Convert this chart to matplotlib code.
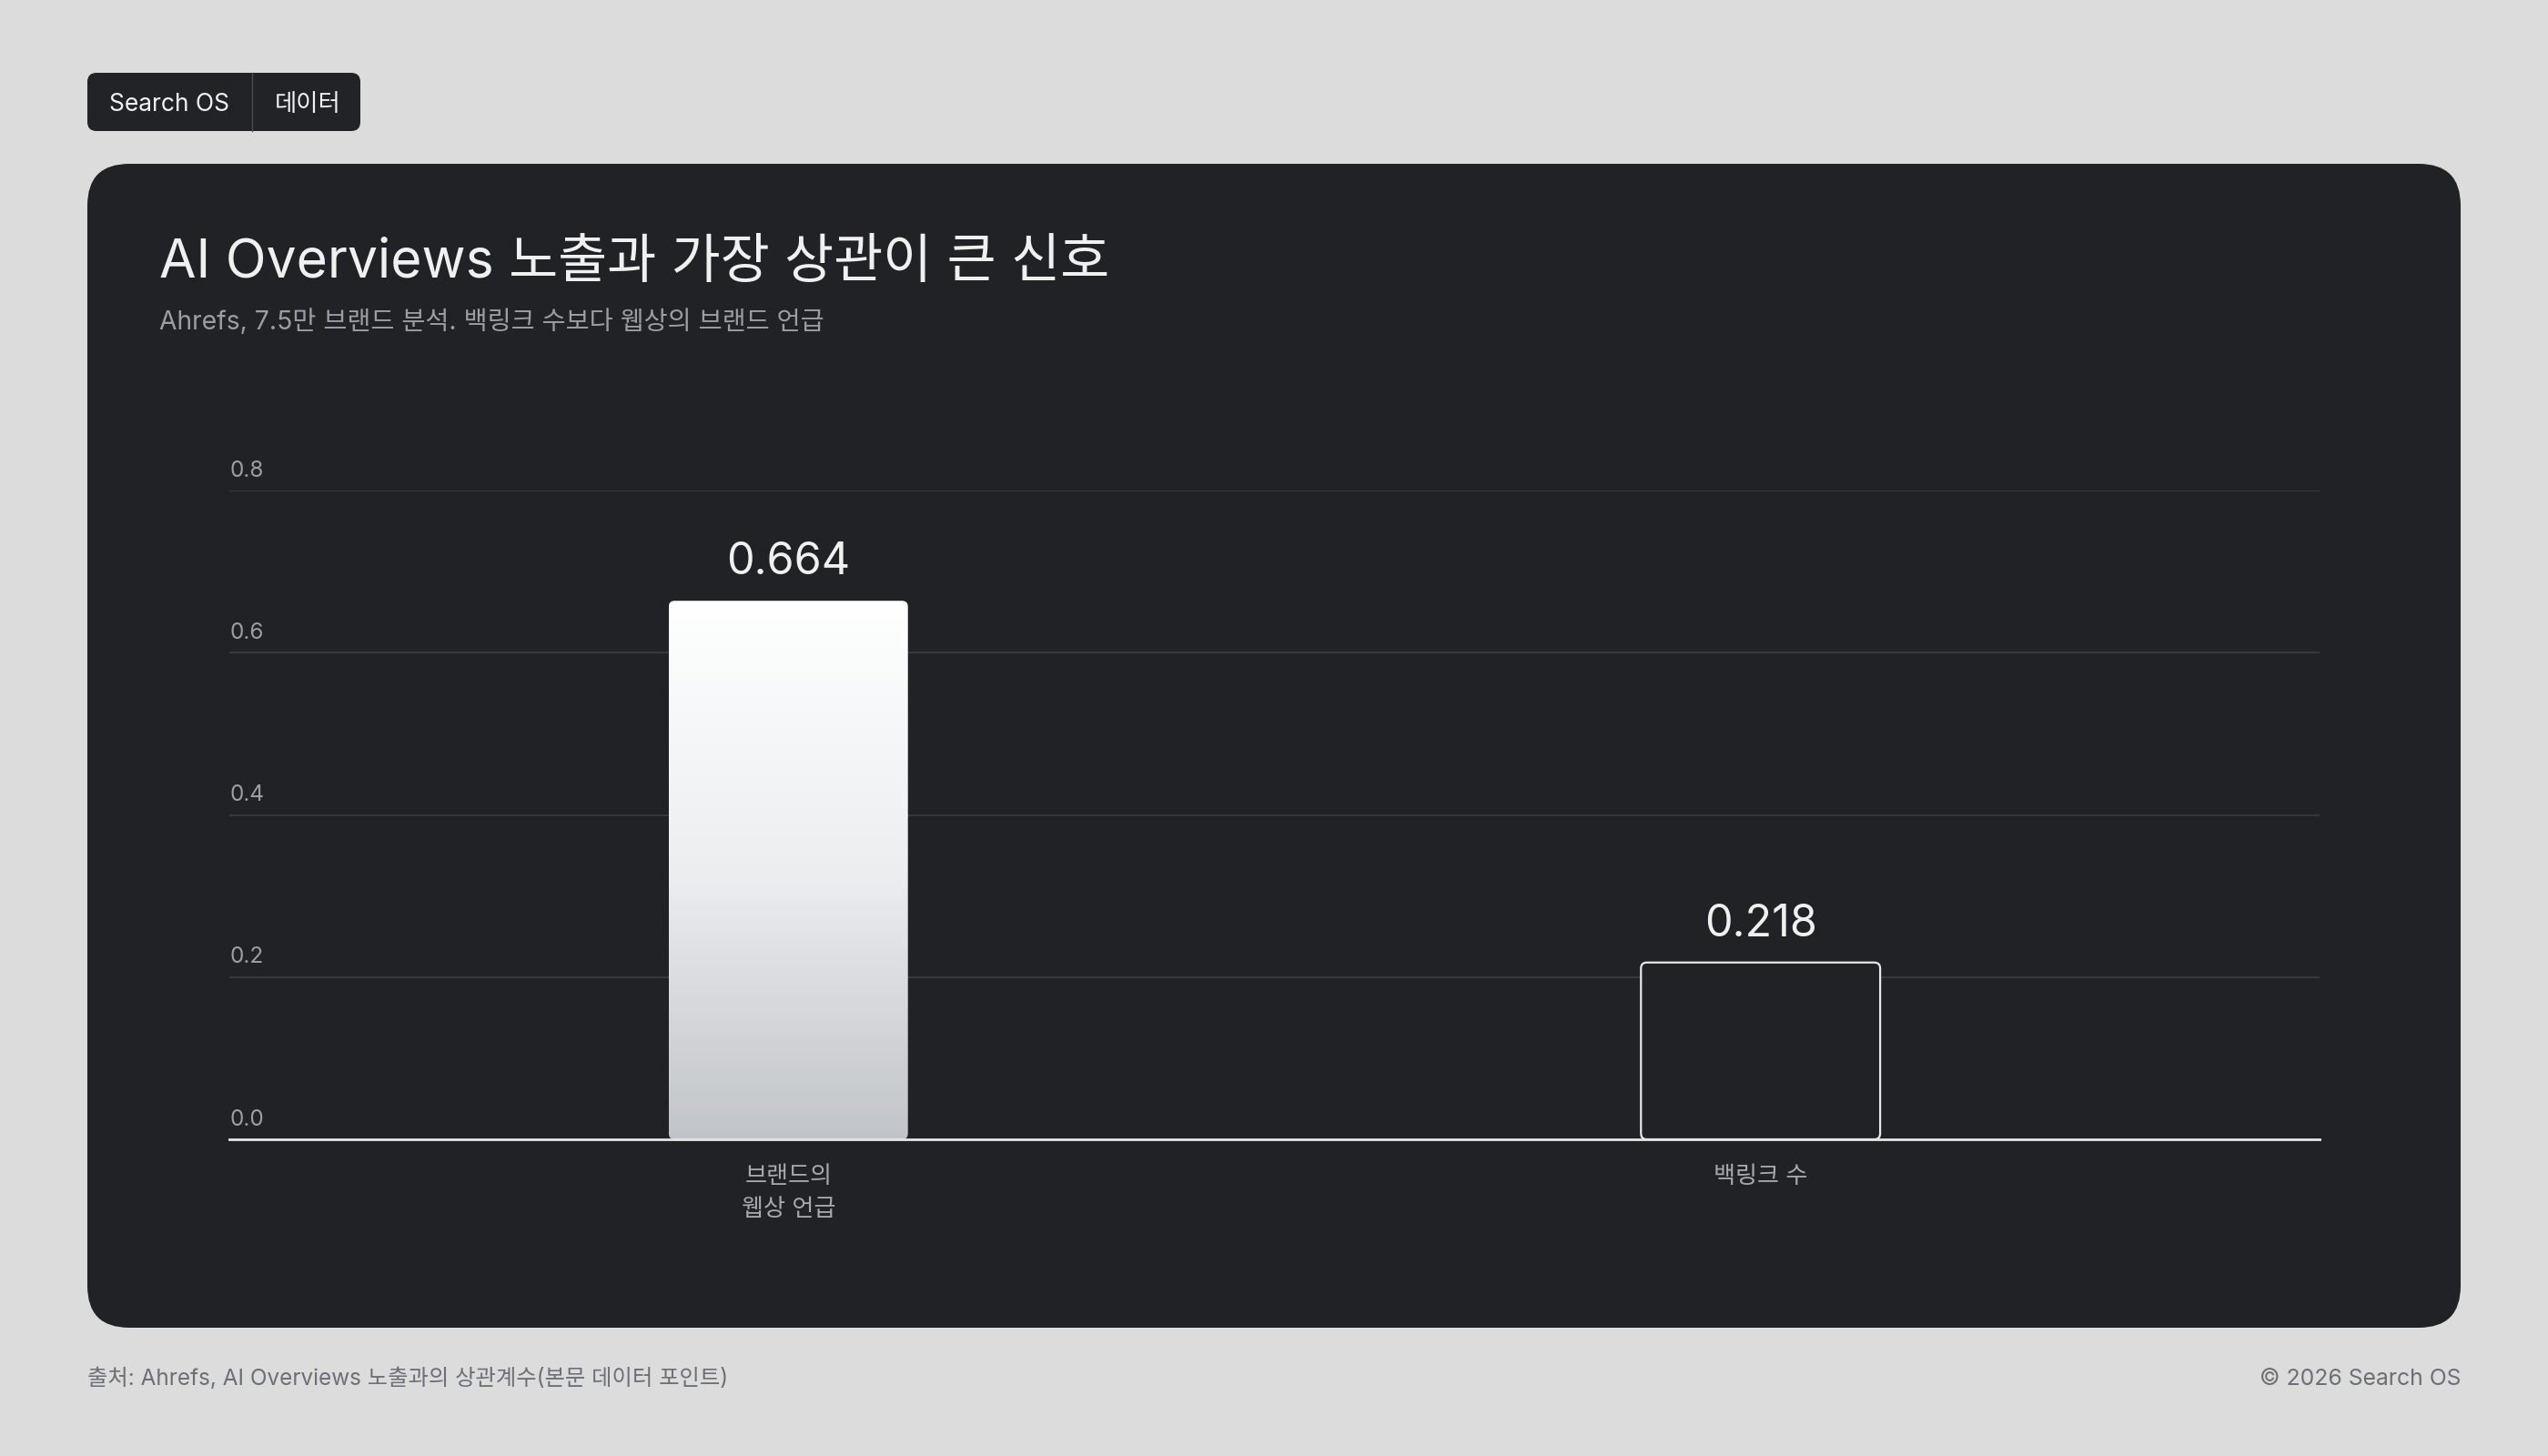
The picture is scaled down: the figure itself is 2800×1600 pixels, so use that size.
import numpy as np
import matplotlib
matplotlib.use("Agg")
import matplotlib.pyplot as plt
from matplotlib.patches import FancyBboxPatch
from matplotlib.colors import LinearSegmentedColormap
from matplotlib.transforms import blended_transform_factory

plt.rcParams['font.family'] = ['Inter', 'Noto Sans CJK KR', 'DejaVu Sans']

# data
categories = ["브랜드의\n웹상 언급", "백링크 수"]
values = [0.664, 0.218]
value_labels = ["0.664", "0.218"]
y_ticks = [0.0, 0.2, 0.4, 0.6, 0.8]

title = "AI Overviews 노출과 가장 상관이 큰 신호"
subtitle = "Ahrefs, 7.5만 브랜드 분석. 백링크 수보다 웹상의 브랜드 언급"
source = "출처: Ahrefs, AI Overviews 노출과의 상관계수(본문 데이터 포인트)"
copyright_text = "© 2026 Search OS"
badge_items = ["Search OS", "데이터"]

W, H = 2800, 1600
PAGE = "#dcdcdc"
CARD = "#212226"

fig = plt.figure(figsize=(28, 16), dpi=100)
fig.patch.set_facecolor(PAGE)

# page frame drawn in pixel coordinates
bg = fig.add_axes([0, 0, 1, 1])
bg.set_xlim(0, W)
bg.set_ylim(H, 0)
bg.axis('off')

bg.add_patch(FancyBboxPatch((96, 180), 2608, 1279,
                            boxstyle="round,pad=0,rounding_size=46",
                            fc=CARD, ec='none'))

# badge
bg.add_patch(FancyBboxPatch((96, 80), 300, 64,
                            boxstyle="round,pad=0,rounding_size=10",
                            fc="#222327", ec='none'))
bg.plot([277, 277], [80, 144], color="#4a4b50", lw=1)
bg.text(120, 122, badge_items[0], fontsize=19, color="#f2f2f2", va='baseline')
bg.text(302, 122, badge_items[1], fontsize=19, color="#f2f2f2", va='baseline')

# titles
bg.text(175, 305, title, fontsize=42.3, color="#f0f0f0", va='baseline')
bg.text(175, 362, subtitle, fontsize=20.4, color="#9a9da3", va='baseline')

# footer
bg.text(96, 1522, source, fontsize=17.5, color="#6c6f75", va='baseline')
bg.text(2704, 1522, copyright_text, fontsize=17.8, color="#6c6f75",
        va='baseline', ha='right')

# chart
ax = fig.add_axes([252 / W, (H - 1252) / H, 2297 / W, 713 / H])
ax.set_facecolor('none')
for s in ax.spines.values():
    s.set_visible(False)

x = np.arange(len(categories))
rects = ax.bar(x, values, width=0.246)

for v in y_ticks[1:]:
    ax.axhline(v, color="#3a3b40", lw=1.3, zorder=1)
ax.axhline(0, color="#e6e6e6", lw=2, zorder=5, clip_on=False)

cmap = LinearSegmentedColormap.from_list('bar', ['#c1c4c8', '#eceef0', '#ffffff'])
grad = np.linspace(0, 1, 256).reshape(-1, 1)

for i, r in enumerate(rects):
    r.set_visible(False)
    x0, w, h = r.get_x(), r.get_width(), r.get_height()
    if i == 0:
        patch = FancyBboxPatch((x0, 0), w, h,
                               boxstyle="round,pad=0,rounding_size=0.006",
                               mutation_aspect=1.2, fc='none', ec='none', zorder=3)
        ax.add_patch(patch)
        im = ax.imshow(grad, extent=[x0, x0 + w, 0, h], origin='lower',
                       cmap=cmap, aspect='auto', zorder=3)
        im.set_clip_path(patch)
    else:
        patch = FancyBboxPatch((x0, 0), w, h,
                               boxstyle="round,pad=0,rounding_size=0.006",
                               mutation_aspect=1.2, fc=CARD, ec='#e8e8e8',
                               lw=1.6, zorder=3)
        ax.add_patch(patch)
    ax.annotate(value_labels[i], xy=(x0 + w / 2, h), xytext=(0, 21),
                textcoords='offset points', ha='center', va='baseline',
                fontsize=35, color='#f0f0f0')

trans = blended_transform_factory(ax.transAxes, ax.transData)
for v in y_ticks:
    ax.annotate(f"{v:.1f}", xy=(0, v), xycoords=trans, xytext=(0, 11),
                textcoords='offset points', ha='left', va='baseline',
                fontsize=17.5, color='#9b9ea3')

ax.set_yticks([])
ax.set_xticks(x, categories)
ax.tick_params(axis='x', length=0, pad=20, labelsize=18.8, labelcolor='#a6a9ae')
for lab in ax.get_xticklabels():
    lab.set_linespacing(1.5)

ax.set_xlim(-0.575, 1.575)
ax.set_ylim(0, 0.8)

fig.savefig("out.png", dpi=100, facecolor=PAGE)
